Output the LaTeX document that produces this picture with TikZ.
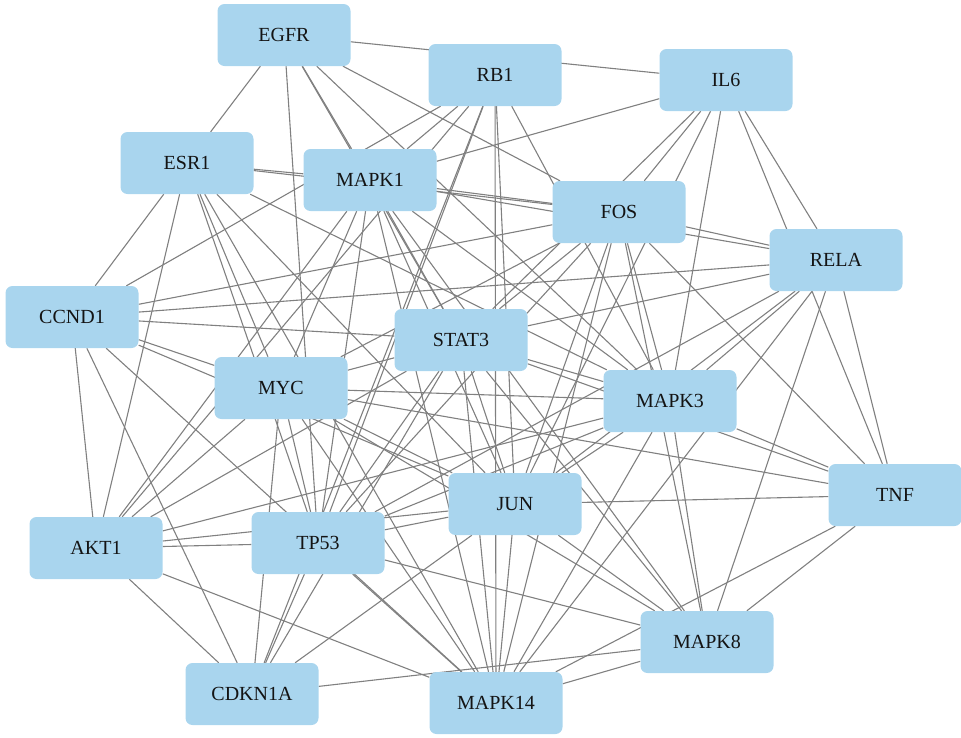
\documentclass[tikz,border=0pt]{standalone}
\usepackage{fontspec}
\setmainfont{Liberation Serif}
\pgfdeclarelayer{edges}
\pgfsetlayers{edges,main}
\definecolor{nodefill}{RGB}{169,213,238}
\definecolor{edgecol}{RGB}{128,128,128}
\definecolor{txt}{RGB}{20,20,20}
\tikzset{
  gene/.style={rectangle, rounded corners=7pt, fill=nodefill, minimum width=133pt, minimum height=62pt, inner sep=0pt, text=txt, font=\fontsize{20}{24}\selectfont},
  link/.style={draw=edgecol, line width=1.1pt}
}
\begin{document}
\begin{tikzpicture}[x=1pt,y=-1pt]
\useasboundingbox (0,0) rectangle (961,737);
\node[gene] (egfr) at (284,35) {EGFR};
\node[gene] (rb1) at (495,75) {RB1};
\node[gene] (il6) at (726,80) {IL6};
\node[gene] (esr1) at (187,163) {ESR1};
\node[gene] (mapk1) at (370,180) {MAPK1};
\node[gene] (fos) at (619,212) {FOS};
\node[gene] (rela) at (836,260) {RELA};
\node[gene] (ccnd1) at (72,317) {CCND1};
\node[gene] (stat3) at (461,340) {STAT3};
\node[gene] (myc) at (281,388) {MYC};
\node[gene] (mapk3) at (670,401) {MAPK3};
\node[gene] (tnf) at (895,495) {TNF};
\node[gene] (jun) at (515,504) {JUN};
\node[gene] (akt1) at (96,548) {AKT1};
\node[gene] (tp53) at (318,543) {TP53};
\node[gene] (mapk8) at (707,642) {MAPK8};
\node[gene] (cdkn1a) at (252,694) {CDKN1A};
\node[gene] (mapk14) at (496,703) {MAPK14};
\begin{pgfonlayer}{edges}
\foreach \a/\b in {
 egfr/il6, egfr/esr1, egfr/tp53, egfr/mapk1, egfr/stat3, egfr/mapk3, egfr/fos,
 rb1/ccnd1, rb1/mapk1, rb1/akt1, rb1/tp53, rb1/cdkn1a, rb1/jun, rb1/mapk14, rb1/mapk3,
 il6/mapk1, il6/stat3, il6/fos, il6/jun, il6/mapk3, il6/tnf, il6/rela,
 esr1/mapk1, esr1/fos, esr1/ccnd1, esr1/akt1, esr1/tp53, esr1/myc, esr1/mapk14, esr1/jun, esr1/mapk3,
 mapk1/fos, mapk1/rela, mapk1/akt1, mapk1/tp53, mapk1/myc, mapk1/stat3, mapk1/jun, mapk1/mapk3, mapk1/mapk8, mapk1/mapk14,
 fos/rela, fos/ccnd1, fos/stat3, fos/myc, fos/tp53, fos/jun, fos/mapk14, fos/mapk3, fos/mapk8, fos/tnf,
 rela/ccnd1, rela/stat3, rela/mapk3, rela/jun, rela/tp53, rela/mapk8, rela/tnf, rela/mapk14,
 ccnd1/stat3, ccnd1/myc, ccnd1/jun, ccnd1/akt1, ccnd1/cdkn1a, ccnd1/mapk14,
 stat3/akt1, stat3/cdkn1a, stat3/tp53, stat3/myc, stat3/mapk3, stat3/jun, stat3/mapk14, stat3/mapk8, stat3/tnf,
 myc/akt1, myc/cdkn1a, myc/tp53, myc/mapk3, myc/jun, myc/tnf, myc/mapk14, myc/mapk8,
 mapk3/akt1, mapk3/jun, mapk3/tp53, mapk3/mapk8, mapk3/mapk14, mapk3/tnf,
 jun/akt1, jun/tp53, jun/cdkn1a, jun/mapk14, jun/mapk8, jun/tnf,
 akt1/tp53, akt1/cdkn1a, akt1/mapk14,
 tp53/mapk8, tp53/mapk14, tp53/cdkn1a,
 mapk8/mapk14, mapk8/tnf, mapk8/cdkn1a,
 tnf/mapk14}
 {\draw[link] (\a) -- (\b);}
\end{pgfonlayer}
\end{tikzpicture}
\end{document}
